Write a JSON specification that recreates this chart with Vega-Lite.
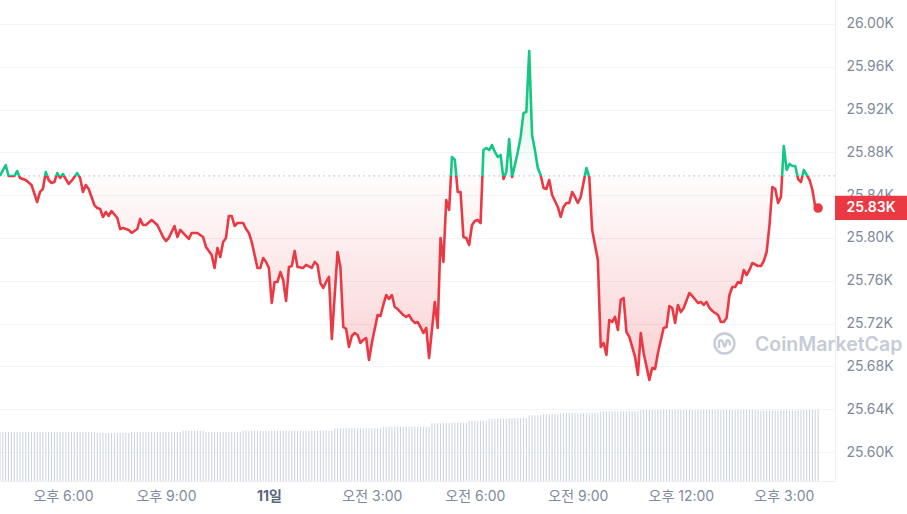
{
"$schema":"https://vega.github.io/schema/vega-lite/v6.json",
"width":835,"height":481,
"autosize":{"type":"none"},
"padding":{"left":0,"top":0,"right":72,"bottom":33},
"background":"white",
"config":{"view":{"stroke":null},"font":"Inter"},
"datasets":{
"price":[
{"t":"2023-06-10T16:10","p":25858},{"t":"2023-06-10T16:20","p":25868.2},{"t":"2023-06-10T16:25","p":25857.9},{"t":"2023-06-10T16:35","p":25857.9},{"t":"2023-06-10T16:40","p":25862.6},{"t":"2023-06-10T16:45","p":25856.1},{"t":"2023-06-10T16:55","p":25854.2},{"t":"2023-06-10T17:05","p":25849.5},{"t":"2023-06-10T17:15","p":25833.6},{"t":"2023-06-10T17:20","p":25843.0},{"t":"2023-06-10T17:25","p":25845.8},{"t":"2023-06-10T17:30","p":25861.7},{"t":"2023-06-10T17:35","p":25854.2},{"t":"2023-06-10T17:40","p":25851.4},{"t":"2023-06-10T17:45","p":25852.3},{"t":"2023-06-10T17:50","p":25860.7},{"t":"2023-06-10T17:55","p":25856.1},{"t":"2023-06-10T18:00","p":25859.8},{"t":"2023-06-10T18:05","p":25855.1},{"t":"2023-06-10T18:10","p":25850.5},{"t":"2023-06-10T18:15","p":25853.3},{"t":"2023-06-10T18:25","p":25860.7},{"t":"2023-06-10T18:30","p":25856.1},{"t":"2023-06-10T18:35","p":25843.0},{"t":"2023-06-10T18:40","p":25849.5},{"t":"2023-06-10T18:45","p":25845.8},{"t":"2023-06-10T18:55","p":25830.8},{"t":"2023-06-10T19:00","p":25828.0},{"t":"2023-06-10T19:05","p":25827.1},{"t":"2023-06-10T19:10","p":25819.6},{"t":"2023-06-10T19:15","p":25824.3},{"t":"2023-06-10T19:20","p":25820.6},{"t":"2023-06-10T19:25","p":25825.2},{"t":"2023-06-10T19:35","p":25818.7},{"t":"2023-06-10T19:40","p":25808.4},{"t":"2023-06-10T19:45","p":25809.3},{"t":"2023-06-10T19:55","p":25807.5},{"t":"2023-06-10T20:00","p":25804.7},{"t":"2023-06-10T20:10","p":25808.4},{"t":"2023-06-10T20:15","p":25817.8},{"t":"2023-06-10T20:20","p":25812.1},{"t":"2023-06-10T20:25","p":25812.1},{"t":"2023-06-10T20:35","p":25816.8},{"t":"2023-06-10T20:45","p":25812.1},{"t":"2023-06-10T20:55","p":25800.9},{"t":"2023-06-10T21:00","p":25797.2},{"t":"2023-06-10T21:05","p":25800.0},{"t":"2023-06-10T21:15","p":25811.2},{"t":"2023-06-10T21:20","p":25800.9},{"t":"2023-06-10T21:25","p":25807.5},{"t":"2023-06-10T21:35","p":25801.9},{"t":"2023-06-10T21:40","p":25799.1},{"t":"2023-06-10T21:45","p":25804.7},{"t":"2023-06-10T21:55","p":25804.7},{"t":"2023-06-10T22:05","p":25800.9},{"t":"2023-06-10T22:10","p":25791.6},{"t":"2023-06-10T22:20","p":25784.1},{"t":"2023-06-10T22:25","p":25772.0},{"t":"2023-06-10T22:30","p":25790.7},{"t":"2023-06-10T22:35","p":25782.2},{"t":"2023-06-10T22:40","p":25796.3},{"t":"2023-06-10T22:45","p":25800.0},{"t":"2023-06-10T22:50","p":25820.6},{"t":"2023-06-10T22:55","p":25820.6},{"t":"2023-06-10T23:00","p":25811.2},{"t":"2023-06-10T23:05","p":25814.0},{"t":"2023-06-10T23:15","p":25814.0},{"t":"2023-06-10T23:20","p":25808.4},{"t":"2023-06-10T23:25","p":25804.7},{"t":"2023-06-10T23:30","p":25796.3},{"t":"2023-06-10T23:40","p":25772.0},{"t":"2023-06-10T23:45","p":25772.0},{"t":"2023-06-10T23:50","p":25781.3},{"t":"2023-06-10T23:55","p":25777.6},
{"t":"2023-06-11T00:00","p":25772.0},{"t":"2023-06-11T00:05","p":25739.3},{"t":"2023-06-11T00:10","p":25758.9},{"t":"2023-06-11T00:15","p":25758.9},{"t":"2023-06-11T00:20","p":25768.2},{"t":"2023-06-11T00:25","p":25760.7},{"t":"2023-06-11T00:30","p":25741.1},{"t":"2023-06-11T00:35","p":25772.9},{"t":"2023-06-11T00:40","p":25773.8},{"t":"2023-06-11T00:45","p":25787.9},{"t":"2023-06-11T00:50","p":25772.9},{"t":"2023-06-11T01:00","p":25772.0},{"t":"2023-06-11T01:05","p":25774.8},{"t":"2023-06-11T01:15","p":25772.0},{"t":"2023-06-11T01:20","p":25777.6},{"t":"2023-06-11T01:25","p":25774.8},{"t":"2023-06-11T01:30","p":25757.9},{"t":"2023-06-11T01:35","p":25753.3},{"t":"2023-06-11T01:40","p":25758.9},{"t":"2023-06-11T01:45","p":25763.6},{"t":"2023-06-11T01:50","p":25705.6},{"t":"2023-06-11T02:00","p":25786.9},{"t":"2023-06-11T02:05","p":25772.9},{"t":"2023-06-11T02:10","p":25716.8},{"t":"2023-06-11T02:15","p":25715.0},{"t":"2023-06-11T02:20","p":25698.1},{"t":"2023-06-11T02:25","p":25708.4},{"t":"2023-06-11T02:30","p":25711.2},{"t":"2023-06-11T02:35","p":25709.3},{"t":"2023-06-11T02:40","p":25701.9},{"t":"2023-06-11T02:45","p":25704.7},{"t":"2023-06-11T02:50","p":25706.5},{"t":"2023-06-11T02:55","p":25686.0},{"t":"2023-06-11T03:00","p":25701.9},{"t":"2023-06-11T03:10","p":25728.0},{"t":"2023-06-11T03:15","p":25727.1},{"t":"2023-06-11T03:20","p":25737.4},{"t":"2023-06-11T03:25","p":25746.7},{"t":"2023-06-11T03:30","p":25743.0},{"t":"2023-06-11T03:35","p":25746.7},{"t":"2023-06-11T03:40","p":25735.5},{"t":"2023-06-11T03:45","p":25733.6},{"t":"2023-06-11T03:55","p":25728.0},{"t":"2023-06-11T04:00","p":25726.2},{"t":"2023-06-11T04:05","p":25728.0},{"t":"2023-06-11T04:10","p":25723.4},{"t":"2023-06-11T04:15","p":25720.6},{"t":"2023-06-11T04:20","p":25721.5},{"t":"2023-06-11T04:25","p":25716.8},{"t":"2023-06-11T04:30","p":25711.2},{"t":"2023-06-11T04:35","p":25715.9},{"t":"2023-06-11T04:40","p":25687.9},{"t":"2023-06-11T04:50","p":25740.2},{"t":"2023-06-11T04:55","p":25715.9},{"t":"2023-06-11T05:00","p":25800.0},{"t":"2023-06-11T05:05","p":25777.6},{"t":"2023-06-11T05:10","p":25835.5},{"t":"2023-06-11T05:15","p":25826.2},{"t":"2023-06-11T05:20","p":25875.7},{"t":"2023-06-11T05:25","p":25872.9},{"t":"2023-06-11T05:30","p":25843.0},{"t":"2023-06-11T05:35","p":25843.0},{"t":"2023-06-11T05:40","p":25800.9},{"t":"2023-06-11T05:45","p":25800.0},{"t":"2023-06-11T05:50","p":25793.5},{"t":"2023-06-11T05:55","p":25812.1},{"t":"2023-06-11T06:00","p":25815.9},{"t":"2023-06-11T06:05","p":25816.8},{"t":"2023-06-11T06:10","p":25814.0},{"t":"2023-06-11T06:15","p":25882.2},{"t":"2023-06-11T06:20","p":25884.1},{"t":"2023-06-11T06:25","p":25882.2},{"t":"2023-06-11T06:30","p":25886.9},{"t":"2023-06-11T06:35","p":25880.4},{"t":"2023-06-11T06:40","p":25875.7},{"t":"2023-06-11T06:45","p":25877.6},{"t":"2023-06-11T06:50","p":25855.1},{"t":"2023-06-11T06:55","p":25861.7},{"t":"2023-06-11T07:00","p":25892.5},{"t":"2023-06-11T07:05","p":25857.0},{"t":"2023-06-11T07:10","p":25868.2},{"t":"2023-06-11T07:15","p":25880.4},{"t":"2023-06-11T07:20","p":25894.4},{"t":"2023-06-11T07:25","p":25916.8},{"t":"2023-06-11T07:30","p":25917.8},{"t":"2023-06-11T07:35","p":25974.8},{"t":"2023-06-11T07:40","p":25896.3},{"t":"2023-06-11T07:45","p":25882.2},{"t":"2023-06-11T07:50","p":25865.4},{"t":"2023-06-11T07:55","p":25858.9},{"t":"2023-06-11T08:00","p":25846.7},{"t":"2023-06-11T08:05","p":25845.8},{"t":"2023-06-11T08:10","p":25854.2},{"t":"2023-06-11T08:15","p":25840.2},{"t":"2023-06-11T08:25","p":25829.0},{"t":"2023-06-11T08:30","p":25819.6},{"t":"2023-06-11T08:35","p":25829.0},{"t":"2023-06-11T08:40","p":25832.7},{"t":"2023-06-11T08:45","p":25832.7},{"t":"2023-06-11T08:50","p":25843.0},{"t":"2023-06-11T08:55","p":25838.3},{"t":"2023-06-11T09:00","p":25832.7},{"t":"2023-06-11T09:05","p":25838.3},{"t":"2023-06-11T09:15","p":25865.4},{"t":"2023-06-11T09:20","p":25857.0},{"t":"2023-06-11T09:25","p":25807.5},{"t":"2023-06-11T09:35","p":25779.4},{"t":"2023-06-11T09:40","p":25698.1},{"t":"2023-06-11T09:45","p":25701.9},{"t":"2023-06-11T09:50","p":25690.7},{"t":"2023-06-11T09:55","p":25723.4},{"t":"2023-06-11T10:00","p":25721.5},{"t":"2023-06-11T10:05","p":25726.2},{"t":"2023-06-11T10:10","p":25714.0},{"t":"2023-06-11T10:15","p":25742.1},{"t":"2023-06-11T10:20","p":25743.9},{"t":"2023-06-11T10:25","p":25712.1},{"t":"2023-06-11T10:30","p":25707.5},{"t":"2023-06-11T10:40","p":25688.8},{"t":"2023-06-11T10:45","p":25672.0},{"t":"2023-06-11T10:50","p":25711.2},{"t":"2023-06-11T10:55","p":25692.5},{"t":"2023-06-11T11:05","p":25667.3},{"t":"2023-06-11T11:10","p":25678.5},{"t":"2023-06-11T11:15","p":25677.6},{"t":"2023-06-11T11:20","p":25692.5},{"t":"2023-06-11T11:30","p":25715.9},{"t":"2023-06-11T11:35","p":25716.8},{"t":"2023-06-11T11:40","p":25736.4},{"t":"2023-06-11T11:45","p":25734.6},{"t":"2023-06-11T11:50","p":25720.6},{"t":"2023-06-11T11:55","p":25737.4},{"t":"2023-06-11T12:00","p":25730.8},{"t":"2023-06-11T12:05","p":25734.6},{"t":"2023-06-11T12:15","p":25748.6},{"t":"2023-06-11T12:20","p":25745.8},{"t":"2023-06-11T12:30","p":25739.3},{"t":"2023-06-11T12:35","p":25740.2},{"t":"2023-06-11T12:40","p":25737.4},{"t":"2023-06-11T12:45","p":25740.2},{"t":"2023-06-11T12:50","p":25734.6},{"t":"2023-06-11T12:55","p":25731.8},{"t":"2023-06-11T13:05","p":25728.0},{"t":"2023-06-11T13:10","p":25721.5},{"t":"2023-06-11T13:15","p":25721.5},{"t":"2023-06-11T13:20","p":25725.2},{"t":"2023-06-11T13:25","p":25746.7},{"t":"2023-06-11T13:30","p":25754.2},{"t":"2023-06-11T13:35","p":25754.2},{"t":"2023-06-11T13:40","p":25758.9},{"t":"2023-06-11T13:45","p":25757.9},{"t":"2023-06-11T13:50","p":25770.1},{"t":"2023-06-11T13:55","p":25765.4},{"t":"2023-06-11T14:00","p":25770.1},{"t":"2023-06-11T14:05","p":25776.6},{"t":"2023-06-11T14:15","p":25773.8},{"t":"2023-06-11T14:20","p":25773.8},{"t":"2023-06-11T14:25","p":25778.5},{"t":"2023-06-11T14:30","p":25786.9},{"t":"2023-06-11T14:35","p":25812.1},{"t":"2023-06-11T14:40","p":25847.7},{"t":"2023-06-11T14:45","p":25845.8},{"t":"2023-06-11T14:50","p":25832.7},{"t":"2023-06-11T14:55","p":25838.3},{"t":"2023-06-11T15:00","p":25886.0},{"t":"2023-06-11T15:05","p":25863.6},{"t":"2023-06-11T15:10","p":25869.2},{"t":"2023-06-11T15:15","p":25867.3},{"t":"2023-06-11T15:20","p":25867.3},{"t":"2023-06-11T15:25","p":25855.1},{"t":"2023-06-11T15:30","p":25852.3},{"t":"2023-06-11T15:35","p":25863.6},{"t":"2023-06-11T15:40","p":25858.9},{"t":"2023-06-11T15:45","p":25854.2},{"t":"2023-06-11T15:50","p":25844.9},{"t":"2023-06-11T15:55","p":25829.0},{"t":"2023-06-11T16:00","p":25828.0}
],
"volume":[
{"t":"2023-06-10T16:10","v":9.7},{"t":"2023-06-10T16:15","v":9.7},{"t":"2023-06-10T16:20","v":9.7},{"t":"2023-06-10T16:25","v":9.7},{"t":"2023-06-10T16:30","v":9.7},{"t":"2023-06-10T16:35","v":9.7},{"t":"2023-06-10T16:40","v":9.7},{"t":"2023-06-10T16:45","v":9.7},{"t":"2023-06-10T16:50","v":9.7},{"t":"2023-06-10T16:55","v":9.7},
{"t":"2023-06-10T17:00","v":9.7},{"t":"2023-06-10T17:05","v":9.7},{"t":"2023-06-10T17:10","v":9.7},{"t":"2023-06-10T17:15","v":9.7},{"t":"2023-06-10T17:20","v":9.7},{"t":"2023-06-10T17:25","v":9.7},{"t":"2023-06-10T17:30","v":9.7},{"t":"2023-06-10T17:35","v":9.7},{"t":"2023-06-10T17:40","v":9.7},{"t":"2023-06-10T17:45","v":9.7},{"t":"2023-06-10T17:50","v":9.7},{"t":"2023-06-10T17:55","v":9.7},
{"t":"2023-06-10T18:00","v":9.7},{"t":"2023-06-10T18:05","v":9.7},{"t":"2023-06-10T18:10","v":9.7},{"t":"2023-06-10T18:15","v":9.7},{"t":"2023-06-10T18:20","v":9.7},{"t":"2023-06-10T18:25","v":9.7},{"t":"2023-06-10T18:30","v":9.7},{"t":"2023-06-10T18:35","v":9.7},{"t":"2023-06-10T18:40","v":9.7},{"t":"2023-06-10T18:45","v":9.7},{"t":"2023-06-10T18:50","v":9.7},{"t":"2023-06-10T18:55","v":9.7},
{"t":"2023-06-10T19:00","v":9.5},{"t":"2023-06-10T19:05","v":9.5},{"t":"2023-06-10T19:10","v":9.5},{"t":"2023-06-10T19:15","v":9.5},{"t":"2023-06-10T19:20","v":9.5},{"t":"2023-06-10T19:25","v":9.5},{"t":"2023-06-10T19:30","v":9.5},{"t":"2023-06-10T19:35","v":9.5},{"t":"2023-06-10T19:40","v":9.5},{"t":"2023-06-10T19:45","v":9.5},{"t":"2023-06-10T19:50","v":9.5},{"t":"2023-06-10T19:55","v":9.5},
{"t":"2023-06-10T20:00","v":9.7},{"t":"2023-06-10T20:05","v":9.7},{"t":"2023-06-10T20:10","v":9.7},{"t":"2023-06-10T20:15","v":9.7},{"t":"2023-06-10T20:20","v":9.7},{"t":"2023-06-10T20:25","v":9.7},{"t":"2023-06-10T20:30","v":9.7},{"t":"2023-06-10T20:35","v":9.7},{"t":"2023-06-10T20:40","v":9.7},{"t":"2023-06-10T20:45","v":9.7},{"t":"2023-06-10T20:50","v":9.7},{"t":"2023-06-10T20:55","v":9.7},
{"t":"2023-06-10T21:00","v":9.7},{"t":"2023-06-10T21:05","v":9.7},{"t":"2023-06-10T21:10","v":9.7},{"t":"2023-06-10T21:15","v":9.7},{"t":"2023-06-10T21:20","v":9.7},{"t":"2023-06-10T21:25","v":9.7},{"t":"2023-06-10T21:30","v":9.9},{"t":"2023-06-10T21:35","v":9.9},{"t":"2023-06-10T21:40","v":9.9},{"t":"2023-06-10T21:45","v":9.9},{"t":"2023-06-10T21:50","v":9.9},{"t":"2023-06-10T21:55","v":9.9},
{"t":"2023-06-10T22:00","v":9.9},{"t":"2023-06-10T22:05","v":9.9},{"t":"2023-06-10T22:10","v":9.7},{"t":"2023-06-10T22:15","v":9.7},{"t":"2023-06-10T22:20","v":9.7},{"t":"2023-06-10T22:25","v":9.7},{"t":"2023-06-10T22:30","v":9.7},{"t":"2023-06-10T22:35","v":9.7},{"t":"2023-06-10T22:40","v":9.7},{"t":"2023-06-10T22:45","v":9.7},{"t":"2023-06-10T22:50","v":9.7},{"t":"2023-06-10T22:55","v":9.7},
{"t":"2023-06-10T23:00","v":9.7},{"t":"2023-06-10T23:05","v":9.7},{"t":"2023-06-10T23:10","v":9.7},{"t":"2023-06-10T23:15","v":9.9},{"t":"2023-06-10T23:20","v":9.9},{"t":"2023-06-10T23:25","v":9.9},{"t":"2023-06-10T23:30","v":9.9},{"t":"2023-06-10T23:35","v":9.9},{"t":"2023-06-10T23:40","v":9.9},{"t":"2023-06-10T23:45","v":9.9},{"t":"2023-06-10T23:50","v":9.9},{"t":"2023-06-10T23:55","v":9.9},
{"t":"2023-06-11T00:00","v":9.9},{"t":"2023-06-11T00:05","v":9.9},{"t":"2023-06-11T00:10","v":9.9},{"t":"2023-06-11T00:15","v":9.9},{"t":"2023-06-11T00:20","v":9.9},{"t":"2023-06-11T00:25","v":9.9},{"t":"2023-06-11T00:30","v":9.9},{"t":"2023-06-11T00:35","v":9.9},{"t":"2023-06-11T00:40","v":9.9},{"t":"2023-06-11T00:45","v":9.9},{"t":"2023-06-11T00:50","v":9.9},{"t":"2023-06-11T00:55","v":9.9},
{"t":"2023-06-11T01:00","v":9.9},{"t":"2023-06-11T01:05","v":9.9},{"t":"2023-06-11T01:10","v":9.9},{"t":"2023-06-11T01:15","v":9.9},{"t":"2023-06-11T01:20","v":9.9},{"t":"2023-06-11T01:25","v":9.9},{"t":"2023-06-11T01:30","v":9.9},{"t":"2023-06-11T01:35","v":9.9},{"t":"2023-06-11T01:40","v":9.9},{"t":"2023-06-11T01:45","v":9.9},{"t":"2023-06-11T01:50","v":9.9},{"t":"2023-06-11T01:55","v":10.4},
{"t":"2023-06-11T02:00","v":10.4},{"t":"2023-06-11T02:05","v":10.4},{"t":"2023-06-11T02:10","v":10.4},{"t":"2023-06-11T02:15","v":10.4},{"t":"2023-06-11T02:20","v":10.4},{"t":"2023-06-11T02:25","v":10.4},{"t":"2023-06-11T02:30","v":10.4},{"t":"2023-06-11T02:35","v":10.4},{"t":"2023-06-11T02:40","v":10.4},{"t":"2023-06-11T02:45","v":10.4},{"t":"2023-06-11T02:50","v":10.4},{"t":"2023-06-11T02:55","v":10.4},
{"t":"2023-06-11T03:00","v":10.4},{"t":"2023-06-11T03:05","v":10.4},{"t":"2023-06-11T03:10","v":10.4},{"t":"2023-06-11T03:15","v":10.4},{"t":"2023-06-11T03:20","v":10.7},{"t":"2023-06-11T03:25","v":10.7},{"t":"2023-06-11T03:30","v":10.7},{"t":"2023-06-11T03:35","v":10.7},{"t":"2023-06-11T03:40","v":10.7},{"t":"2023-06-11T03:45","v":10.7},{"t":"2023-06-11T03:50","v":10.7},{"t":"2023-06-11T03:55","v":10.7},
{"t":"2023-06-11T04:00","v":10.7},{"t":"2023-06-11T04:05","v":10.7},{"t":"2023-06-11T04:10","v":10.7},{"t":"2023-06-11T04:15","v":10.7},{"t":"2023-06-11T04:20","v":10.7},{"t":"2023-06-11T04:25","v":10.7},{"t":"2023-06-11T04:30","v":10.7},{"t":"2023-06-11T04:35","v":10.7},{"t":"2023-06-11T04:40","v":10.7},{"t":"2023-06-11T04:45","v":11.4},{"t":"2023-06-11T04:50","v":11.4},{"t":"2023-06-11T04:55","v":11.4},
{"t":"2023-06-11T05:00","v":11.4},{"t":"2023-06-11T05:05","v":11.4},{"t":"2023-06-11T05:10","v":11.4},{"t":"2023-06-11T05:15","v":11.4},{"t":"2023-06-11T05:20","v":11.5},{"t":"2023-06-11T05:25","v":11.5},{"t":"2023-06-11T05:30","v":11.5},{"t":"2023-06-11T05:35","v":11.5},{"t":"2023-06-11T05:40","v":11.5},{"t":"2023-06-11T05:45","v":11.5},{"t":"2023-06-11T05:50","v":11.9},{"t":"2023-06-11T05:55","v":11.9},
{"t":"2023-06-11T06:00","v":11.9},{"t":"2023-06-11T06:05","v":11.9},{"t":"2023-06-11T06:10","v":11.9},{"t":"2023-06-11T06:15","v":11.9},{"t":"2023-06-11T06:20","v":11.9},{"t":"2023-06-11T06:25","v":12.3},{"t":"2023-06-11T06:30","v":12.3},{"t":"2023-06-11T06:35","v":12.3},{"t":"2023-06-11T06:40","v":12.3},{"t":"2023-06-11T06:45","v":12.3},{"t":"2023-06-11T06:50","v":12.3},{"t":"2023-06-11T06:55","v":12.3},
{"t":"2023-06-11T07:00","v":12.4},{"t":"2023-06-11T07:05","v":12.4},{"t":"2023-06-11T07:10","v":12.4},{"t":"2023-06-11T07:15","v":12.4},{"t":"2023-06-11T07:20","v":12.4},{"t":"2023-06-11T07:25","v":12.4},{"t":"2023-06-11T07:30","v":12.4},{"t":"2023-06-11T07:35","v":13.0},{"t":"2023-06-11T07:40","v":13.0},{"t":"2023-06-11T07:45","v":13.0},{"t":"2023-06-11T07:50","v":13.0},{"t":"2023-06-11T07:55","v":13.0},
{"t":"2023-06-11T08:00","v":13.2},{"t":"2023-06-11T08:05","v":13.2},{"t":"2023-06-11T08:10","v":13.2},{"t":"2023-06-11T08:15","v":13.2},{"t":"2023-06-11T08:20","v":13.2},{"t":"2023-06-11T08:25","v":13.2},{"t":"2023-06-11T08:30","v":13.4},{"t":"2023-06-11T08:35","v":13.4},{"t":"2023-06-11T08:40","v":13.4},{"t":"2023-06-11T08:45","v":13.4},{"t":"2023-06-11T08:50","v":13.4},{"t":"2023-06-11T08:55","v":13.4},
{"t":"2023-06-11T09:00","v":13.4},{"t":"2023-06-11T09:05","v":13.4},{"t":"2023-06-11T09:10","v":13.4},{"t":"2023-06-11T09:15","v":13.4},{"t":"2023-06-11T09:20","v":13.4},{"t":"2023-06-11T09:25","v":13.4},{"t":"2023-06-11T09:30","v":13.4},{"t":"2023-06-11T09:35","v":13.4},{"t":"2023-06-11T09:40","v":13.8},{"t":"2023-06-11T09:45","v":13.8},{"t":"2023-06-11T09:50","v":13.8},{"t":"2023-06-11T09:55","v":13.8},
{"t":"2023-06-11T10:00","v":13.8},{"t":"2023-06-11T10:05","v":13.8},{"t":"2023-06-11T10:10","v":13.8},{"t":"2023-06-11T10:15","v":13.8},{"t":"2023-06-11T10:20","v":13.8},{"t":"2023-06-11T10:25","v":13.8},{"t":"2023-06-11T10:30","v":13.8},{"t":"2023-06-11T10:35","v":13.8},{"t":"2023-06-11T10:40","v":13.8},{"t":"2023-06-11T10:45","v":13.8},{"t":"2023-06-11T10:50","v":14.0},{"t":"2023-06-11T10:55","v":14.0},
{"t":"2023-06-11T11:00","v":14.0},{"t":"2023-06-11T11:05","v":14.0},{"t":"2023-06-11T11:10","v":14.0},{"t":"2023-06-11T11:15","v":14.0},{"t":"2023-06-11T11:20","v":14.0},{"t":"2023-06-11T11:25","v":14.0},{"t":"2023-06-11T11:30","v":14.0},{"t":"2023-06-11T11:35","v":14.0},{"t":"2023-06-11T11:40","v":14.0},{"t":"2023-06-11T11:45","v":14.0},{"t":"2023-06-11T11:50","v":14.0},{"t":"2023-06-11T11:55","v":14.0},
{"t":"2023-06-11T12:00","v":14.0},{"t":"2023-06-11T12:05","v":14.0},{"t":"2023-06-11T12:10","v":14.0},{"t":"2023-06-11T12:15","v":14.0},{"t":"2023-06-11T12:20","v":14.0},{"t":"2023-06-11T12:25","v":14.0},{"t":"2023-06-11T12:30","v":14.0},{"t":"2023-06-11T12:35","v":14.0},{"t":"2023-06-11T12:40","v":14.0},{"t":"2023-06-11T12:45","v":14.0},{"t":"2023-06-11T12:50","v":14.0},{"t":"2023-06-11T12:55","v":14.0},
{"t":"2023-06-11T13:00","v":14.0},{"t":"2023-06-11T13:05","v":14.0},{"t":"2023-06-11T13:10","v":14.0},{"t":"2023-06-11T13:15","v":14.0},{"t":"2023-06-11T13:20","v":14.0},{"t":"2023-06-11T13:25","v":14.0},{"t":"2023-06-11T13:30","v":14.0},{"t":"2023-06-11T13:35","v":14.0},{"t":"2023-06-11T13:40","v":14.0},{"t":"2023-06-11T13:45","v":14.0},{"t":"2023-06-11T13:50","v":14.0},{"t":"2023-06-11T13:55","v":14.0},
{"t":"2023-06-11T14:00","v":14.0},{"t":"2023-06-11T14:05","v":14.0},{"t":"2023-06-11T14:10","v":14.0},{"t":"2023-06-11T14:15","v":13.9},{"t":"2023-06-11T14:20","v":13.9},{"t":"2023-06-11T14:25","v":13.9},{"t":"2023-06-11T14:30","v":13.9},{"t":"2023-06-11T14:35","v":13.9},{"t":"2023-06-11T14:40","v":13.9},{"t":"2023-06-11T14:45","v":13.9},{"t":"2023-06-11T14:50","v":13.9},{"t":"2023-06-11T14:55","v":13.9},
{"t":"2023-06-11T15:00","v":13.9},{"t":"2023-06-11T15:05","v":13.9},{"t":"2023-06-11T15:10","v":13.9},{"t":"2023-06-11T15:15","v":13.9},{"t":"2023-06-11T15:20","v":13.9},{"t":"2023-06-11T15:25","v":13.9},{"t":"2023-06-11T15:30","v":14.0},{"t":"2023-06-11T15:35","v":14.0},{"t":"2023-06-11T15:40","v":14.0},{"t":"2023-06-11T15:45","v":14.0},{"t":"2023-06-11T15:50","v":14.0},{"t":"2023-06-11T15:55","v":14.0},
{"t":"2023-06-11T16:00","v":14.0}
]
},
"layer":[
{
"data":{"name":"price"},
"layer":[
{
"mark":{"type":"area","interpolate":"linear","fill":{"gradient":"linear","x1":0,"y1":0,"x2":0,"y2":1,"stops":[{"offset":0,"color":"rgba(22,199,132,0.22)"},{"offset":0.3798,"color":"rgba(22,199,132,0.01)"},{"offset":0.3798,"color":"rgba(234,57,67,0.01)"},{"offset":1,"color":"rgba(234,57,67,0.24)"}]}},
"encoding":{
"x":{"field":"t","type":"temporal","scale":{"domain":[{"year":2023,"month":6,"date":10,"hours":16,"minutes":10},{"year":2023,"month":6,"date":11,"hours":16,"minutes":29,"seconds":30}]},
"axis":{"title":null,"grid":false,"ticks":false,"domain":true,"domainColor":"#eef0f3","labelPadding":8,"labelFontSize":14,"labelFont":"Inter, Noto Sans CJK KR","labelFlush":false,"labelOverlap":false,
"values":[{"year":2023,"month":6,"date":10,"hours":18},{"year":2023,"month":6,"date":10,"hours":21},{"year":2023,"month":6,"date":11,"hours":0},{"year":2023,"month":6,"date":11,"hours":3},{"year":2023,"month":6,"date":11,"hours":6},{"year":2023,"month":6,"date":11,"hours":9},{"year":2023,"month":6,"date":11,"hours":12},{"year":2023,"month":6,"date":11,"hours":15}],
"labelExpr":"hours(datum.value)==0 ? '11일' : (hours(datum.value)<12 ? '오전 ' : '오후 ') + (hours(datum.value)%12==0 ? 12 : hours(datum.value)%12) + ':00'",
"labelColor":{"condition":{"test":"hours(datum.value)==0","value":"#58667e"},"value":"#808a9d"},
"labelFontWeight":{"condition":{"test":"hours(datum.value)==0","value":700},"value":400}}},
"y":{"field":"p","type":"quantitative","scale":{"domain":[25572.9,26022.4],"nice":false,"zero":false},
"axis":{"orient":"right","title":null,"values":[25600,25640,25680,25720,25760,25800,25840,25880,25920,25960,26000],"labelExpr":"format(datum.value/1000,'.2f')+'K'","grid":true,"gridColor":"#f1f3f5","ticks":false,"domain":true,"domainColor":"#eef0f3","labelPadding":11,"labelAlign":"left","labelFontSize":14,"labelColor":"#808a9d","labelFont":"Inter"}},
"y2":{"datum":25858}
}
},
{
"data":{"values":[{"base":25858}]},
"mark":{"type":"rule","strokeDash":[1.5,3.5],"color":"#b3b9c4","strokeWidth":1},
"encoding":{"y":{"field":"base","type":"quantitative"}}
},
{
"mark":{"type":"line","interpolate":"linear","strokeWidth":2.6,"strokeJoin":"round","stroke":{"gradient":"linear","x1":0,"y1":0,"x2":0,"y2":1,"stops":[{"offset":0,"color":"#16c784"},{"offset":0.3798,"color":"#16c784"},{"offset":0.3798,"color":"#ea3943"},{"offset":1,"color":"#ea3943"}]}},
"encoding":{"x":{"field":"t","type":"temporal"},"y":{"field":"p","type":"quantitative"}}
},
{
"data":{"values":[{"t":"2023-06-11T16:00","p":25828}]},
"mark":{"type":"point","filled":true,"color":"#ea3943","size":90,"opacity":1},
"encoding":{"x":{"field":"t","type":"temporal"},"y":{"field":"p","type":"quantitative"}}
},
{
"data":{"values":[{"label":"CoinMarketCap"}]},
"mark":{"type":"point","shape":"M -1 0 A 1 1 0 1 0 1 0 A 1 1 0 1 0 -1 0 M -0.55 0.45 L -0.55 -0.05 Q -0.55 -0.4 -0.32 -0.3 Q -0.12 -0.2 -0.06 0.18 Q 0.04 0.45 0.14 0.1 L 0.2 -0.15 Q 0.3 -0.45 0.46 -0.25 Q 0.56 -0.1 0.56 0.2","filled":false,"stroke":"#c5ccd8","strokeWidth":2.4,"size":400,"opacity":1},
"encoding":{"x":{"datum":{"year":2023,"month":6,"date":11,"hours":13,"minutes":16,"seconds":20},"type":"temporal"},"y":{"datum":25701.4}}
},
{
"data":{"values":[{"label":"CoinMarketCap"}]},
"mark":{"type":"text","align":"left","baseline":"middle","fontSize":19.5,"fontWeight":600,"color":"#c5ccd8","font":"Inter"},
"encoding":{"x":{"datum":{"year":2023,"month":6,"date":11,"hours":14,"minutes":9,"seconds":40},"type":"temporal"},"y":{"datum":25700},"text":{"field":"label"}}
},
{
"data":{"values":[{"label":"25.83K"}]},
"mark":{"type":"rect","color":"#ea3943"},
"encoding":{"x":{"datum":{"year":2023,"month":6,"date":11,"hours":16,"minutes":29,"seconds":30},"type":"temporal"},"x2":{"datum":{"year":2023,"month":6,"date":11,"hours":18,"minutes":40}},"y":{"datum":25839.5},"y2":{"datum":25816.8}}
},
{
"data":{"values":[{"label":"25.83K"}]},
"mark":{"type":"text","align":"center","baseline":"middle","dx":36,"fontSize":14,"fontWeight":600,"color":"white","font":"Inter"},
"encoding":{"x":{"datum":{"year":2023,"month":6,"date":11,"hours":16,"minutes":29,"seconds":30},"type":"temporal"},"y":{"datum":25828},"text":{"field":"label"}}
}
]
},
{
"data":{"name":"volume"},
"mark":{"type":"rule","color":"#cfd5df","strokeWidth":1.1},
"encoding":{
"x":{"field":"t","type":"temporal","scale":{"domain":[{"year":2023,"month":6,"date":10,"hours":16,"minutes":10},{"year":2023,"month":6,"date":11,"hours":16,"minutes":29,"seconds":30}]}},
"y":{"field":"v","type":"quantitative","scale":{"domain":[0,95],"nice":false},"axis":null},
"y2":{"datum":0}
}
}
],
"resolve":{"scale":{"y":"independent"}}
}
